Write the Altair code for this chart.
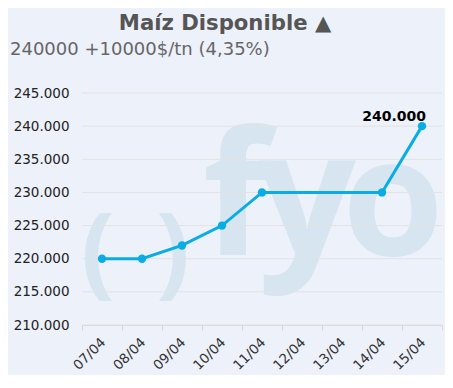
import altair as alt
import pandas as pd

# ---- data ----
dates = ["07/04", "08/04", "09/04", "10/04", "11/04", "12/04", "13/04", "14/04", "15/04"]
values = [220000, 220000, 222000, 225000, 230000, None, None, 230000, 240000]
y_ticks = [210000, 215000, 220000, 225000, 230000, 235000, 240000, 245000]
title_text = "Maíz Disponible ▲"
subtitle_text = "240000 +10000$/tn (4,35%)"
last_label = "240.000"

# watermark glyphs (decoration) and their placement in plot pixels
wm_chars = ["(", ")", "f", "y", "o"]
wm_x = [16, 91, 154, 225, 311]
wm_y = [162, 162, 162, 162, 162]
wm_size = [100, 100, 172, 172, 164]
wm_base = ["middle", "middle", "alphabetic", "alphabetic", "alphabetic"]

rows = [{"fecha": d, "valor": v} for d, v in zip(dates, values) if v is not None]
df = pd.DataFrame(rows)
df_last = df.tail(1).assign(label=last_label)
df_grid = pd.DataFrame({"valor": y_ticks})

BG = "#EDF1FA"
LINE = "#0AADE3"
WM = "#D6E5F0"
FONT = "DejaVu Sans"

xscale = alt.Scale(type="band", domain=dates, paddingInner=0, paddingOuter=0)
yscale = alt.Scale(domain=[210000, 245000], nice=False, zero=False)

x_axis = alt.Axis(
    labelAngle=-45,
    labelAlign="right",
    labelBaseline="top",
    labelFontSize=13.5,
    labelColor="#333333",
    labelFont=FONT,
    labelPadding=5,
    labelOffset=-4,
    labelOverlap=False,
    tickBand="extent",
    tickSize=5,
    tickColor="#D6D6D6",
    domainColor="#D6D6D6",
    grid=False,
)
y_axis = alt.Axis(
    values=y_ticks,
    labelExpr="format(datum.value / 1000, 'd') + '.000'",
    labelFontSize=13.5,
    labelColor="#222222",
    labelFont=FONT,
    labelPadding=13,
    labelOverlap=False,
    ticks=False,
    domain=False,
    grid=False,
)

def X():
    return alt.X("fecha:N", scale=xscale, axis=x_axis, title=None)

def Y():
    return alt.Y("valor:Q", scale=yscale, axis=y_axis, title=None)

wm_layers = []
for ch, x, y, s, b in zip(wm_chars, wm_x, wm_y, wm_size, wm_base):
    wm_layers.append(
        alt.Chart(pd.DataFrame({"t": [ch]})).mark_text(
            font="Open Sans", fontWeight="bold", fontSize=s, color=WM,
            align="center", baseline=b,
        ).encode(text="t:N", x=alt.value(x), y=alt.value(y))
    )

grid = alt.Chart(df_grid).mark_rule(color="#E2E2E2", strokeWidth=1).encode(y=Y())

line = alt.Chart(df).mark_line(color=LINE, strokeWidth=3).encode(x=X(), y=Y())
pts = alt.Chart(df).mark_point(filled=True, color=LINE, size=70, opacity=1).encode(
    x=X(), y=Y()
)
lbl = alt.Chart(df_last).mark_text(
    font=FONT, fontWeight="bold", fontSize=14, color="#000000",
    align="right", baseline="bottom", dx=4, dy=-2,
).encode(x=X(), y=Y(), text="label:N")

title = alt.Chart(pd.DataFrame({"t": [title_text]})).mark_text(
    font=FONT, fontWeight="bold", fontSize=21.2, color="#555555",
    align="center", baseline="alphabetic",
).encode(text="t:N", x=alt.value(143), y=alt.value(-63))

subtitle = alt.Chart(pd.DataFrame({"t": [subtitle_text]})).mark_text(
    font=FONT, fontSize=18, color="#666666",
    align="left", baseline="alphabetic",
).encode(text="t:N", x=alt.value(-72), y=alt.value(-38))

chart = alt.layer(
    *wm_layers, grid, line, pts, lbl, title, subtitle
).properties(
    width=360,
    height=232,
    autosize=alt.AutoSizeParams(type="none"),
    padding={"left": 74, "top": 85, "right": 3, "bottom": 50},
    background=BG,
).configure_view(stroke=None)

chart.save("out.html", embed_options={"renderer": "svg", "actions": False})
